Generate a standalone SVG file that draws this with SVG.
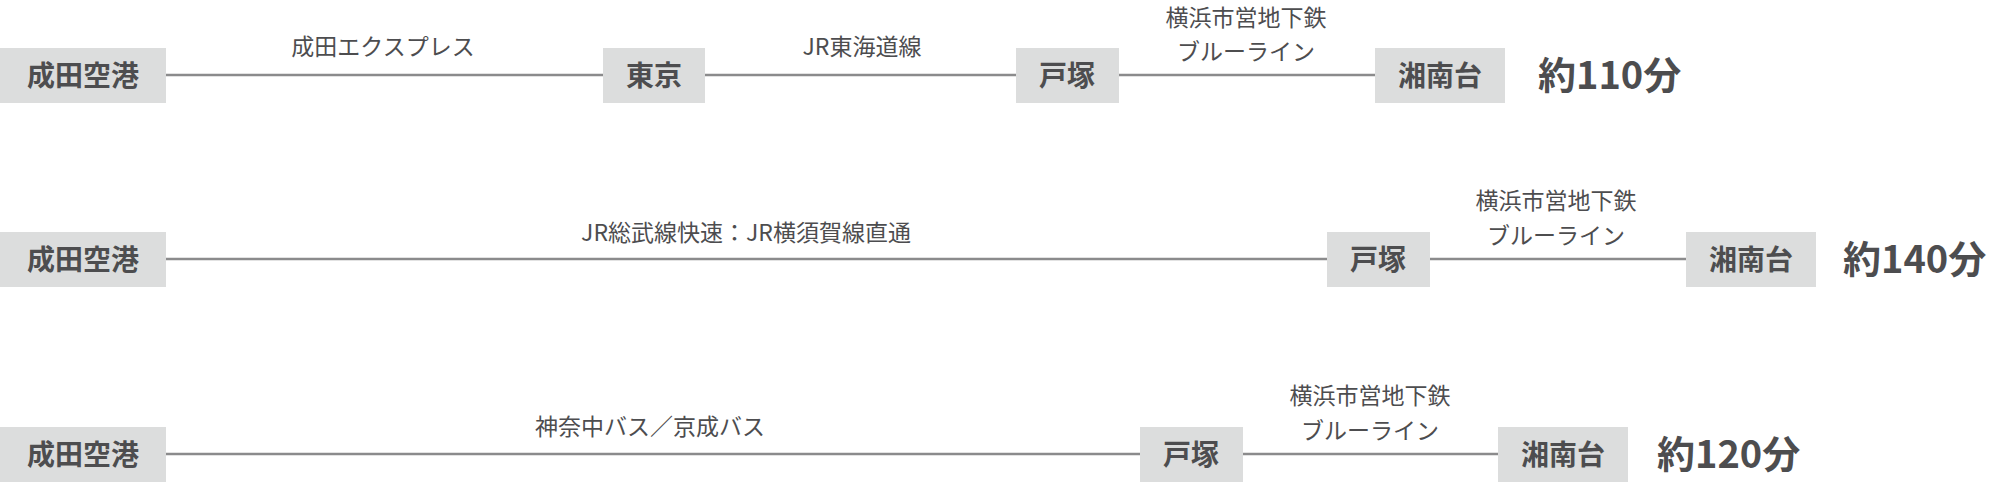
<svg xmlns="http://www.w3.org/2000/svg" width="2000" height="482" viewBox="0 0 2000 482">
<style>
.box{fill:#dcdddd}
.bt{font-family:"Noto Sans CJK JP",sans-serif;font-weight:bold;font-size:28px;fill:#4d4d4f;text-anchor:middle}
.lb{font-family:"Noto Sans CJK JP",sans-serif;font-size:23px;fill:#4d4d4f;text-anchor:middle}
.tm{font-family:"Noto Sans CJK JP",sans-serif;font-weight:bold;font-size:38px;fill:#4d4d4f}
.ln{stroke:#8b8b8c;stroke-width:2.5}
</style>
<rect width="2000" height="482" fill="#fff"/>
<g id="connectors">
<line class="ln" x1="166" y1="75" x2="603" y2="75"/>
<line class="ln" x1="705" y1="75" x2="1017" y2="75"/>
<line class="ln" x1="1119" y1="75" x2="1375" y2="75"/>
<line class="ln" x1="166" y1="259" x2="1327" y2="259"/>
<line class="ln" x1="1430" y1="259" x2="1686" y2="259"/>
<line class="ln" x1="166" y1="454" x2="1140" y2="454"/>
<line class="ln" x1="1243" y1="454" x2="1498" y2="454"/>
</g>
<g id="labels">
<text class="lb" x="383" y="55">成田エクスプレス</text>
<text class="lb" x="862" y="55">JR東海道線</text>
<text class="lb" x="1246" y="26">横浜市営地下鉄</text>
<text class="lb" x="1246" y="60">ブルーライン</text>
<text class="lb" x="746" y="241">JR総武線快速：JR横須賀線直通</text>
<text class="lb" x="1556" y="209">横浜市営地下鉄</text>
<text class="lb" x="1556" y="244">ブルーライン</text>
<text class="lb" x="650" y="435">神奈中バス／京成バス</text>
<text class="lb" x="1370" y="404">横浜市営地下鉄</text>
<text class="lb" x="1370" y="439">ブルーライン</text>
</g>
<g id="n1a"><rect class="box" x="0" y="48" width="166" height="55"/><text class="bt" x="83" y="86">成田空港</text></g>
<g id="n1b"><rect class="box" x="603" y="48" width="102" height="55"/><text class="bt" x="654" y="86">東京</text></g>
<g id="n1c"><rect class="box" x="1016" y="48" width="103" height="55"/><text class="bt" x="1067" y="86">戸塚</text></g>
<g id="n1d"><rect class="box" x="1375" y="48" width="130" height="55"/><text class="bt" x="1440" y="86">湘南台</text></g>
<text id="t1" class="tm" x="1538" y="89">約110分</text>
<g id="n2a"><rect class="box" x="0" y="232" width="166" height="55"/><text class="bt" x="83" y="270">成田空港</text></g>
<g id="n2c"><rect class="box" x="1327" y="232" width="103" height="55"/><text class="bt" x="1378" y="270">戸塚</text></g>
<g id="n2d"><rect class="box" x="1686" y="232" width="130" height="55"/><text class="bt" x="1751" y="270">湘南台</text></g>
<text id="t2" class="tm" x="1843" y="273">約140分</text>
<g id="n3a"><rect class="box" x="0" y="427" width="166" height="55"/><text class="bt" x="83" y="465">成田空港</text></g>
<g id="n3c"><rect class="box" x="1140" y="427" width="103" height="55"/><text class="bt" x="1191" y="465">戸塚</text></g>
<g id="n3d"><rect class="box" x="1498" y="427" width="130" height="55"/><text class="bt" x="1563" y="465">湘南台</text></g>
<text id="t3" class="tm" x="1657" y="468">約120分</text>
</svg>
